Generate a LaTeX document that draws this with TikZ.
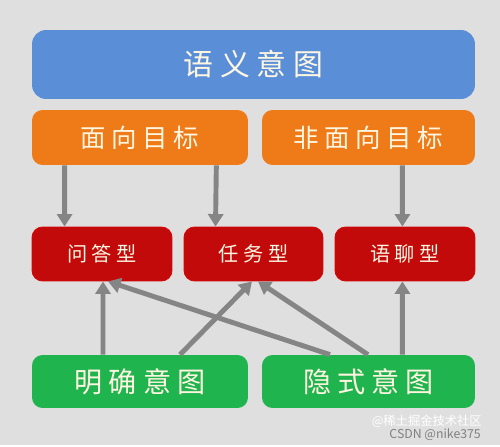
\documentclass[tikz,border=0pt]{standalone}
\usepackage{fontspec}
\newfontfamily\cjk[LetterSpace=22]{Noto Sans CJK SC}
\newfontfamily\cjkmark{Noto Sans CJK SC}
\usetikzlibrary{arrows.meta}

\definecolor{bgcol}{HTML}{DFDFDF}
\definecolor{bluecol}{HTML}{5A8FD8}
\definecolor{orangecol}{HTML}{EE7A18}
\definecolor{redcol}{HTML}{C20A0A}
\definecolor{greencol}{HTML}{20B44E}
\definecolor{arrcol}{HTML}{858585}
\definecolor{txtcol}{HTML}{FFF6E2}

\begin{document}
\begin{tikzpicture}[x=0.02cm,y=-0.02cm,
  box/.style = {rounded corners=6pt,inner sep=0pt,text=txtcol,font=\cjk},
  top/.style = {box,fill=bluecol,minimum width=8.86cm,minimum height=1.38cm,rounded corners=8pt,font=\cjk\fontsize{17}{17}\selectfont},
  goal/.style = {box,fill=orangecol,minimum height=1.1cm,font=\cjk\fontsize{14.5}{14.5}\selectfont},
  kind/.style = {box,fill=redcol,draw=red!35!redcol,line width=0.5pt,minimum width=2.8cm,minimum height=1.08cm,font=\cjk\fontsize{11.5}{11.5}\selectfont},
  intent/.style = {box,fill=greencol,minimum height=1.06cm,font=\cjk\fontsize{16}{16}\selectfont},
  arr/.style = {arrcol,line width=2.8pt,-{Triangle[width=0.3cm,length=0.25cm]}}]

\fill[bgcol] (0,0) rectangle (500,445);

\node[top] (sem) at (253.5,64.5) {语义意图};

\node[goal,minimum width=4.32cm] (dir) at (140,137.5) {面向目标};
\node[goal,minimum width=4.26cm] (nondir) at (368.5,137.5) {非面向目标};

\node[kind] (qa) at (102,254) {问答型};
\node[kind,minimum width=2.78cm] (task) at (253.5,254) {任务型};
\node[kind] (chat) at (405,254) {语聊型};

\node[intent,minimum width=4.32cm] (expl) at (140,381.5) {明确意图};
\node[intent,minimum width=4.26cm] (impl) at (368.5,381.5) {隐式意图};

% top-down
\draw[arr] ([xshift=0.66cm]dir.south west) -- ([xshift=0.66cm]qa.north west);
\draw[arr] ([xshift=-0.64cm]dir.south east) -- ([xshift=-0.76cm]task.north);
\draw[arr] ([xshift=-1.46cm]nondir.south east) -- ([xshift=-1.46cm]chat.north east);

% bottom-up
\draw[arr] ([xshift=-0.74cm]expl.north) -- ([xshift=0.02cm]qa.south);
\draw[arr] ([xshift=0.8cm]expl.north) -- ([xshift=-0.03cm]task.south);
\draw[arr] ([xshift=-0.77cm]impl.north) -- ([xshift=0.12cm]qa.south);
\draw[arr] ([xshift=-0.01cm]impl.north) -- ([xshift=0.09cm]task.south);
\draw[arr] ([xshift=-1.46cm]impl.north east) -- ([xshift=-1.46cm]chat.south east);

% watermark
\node[font=\cjkmark\fontsize{7}{7}\selectfont,text=white,anchor=east] (mark) at (488,421) {@稀土掘金技术社区};
\node[font=\cjkmark\fontsize{7}{7}\selectfont,text=gray,anchor=east] (csdn) at (487,435) {CSDN @nike375};

\end{tikzpicture}
\end{document}
